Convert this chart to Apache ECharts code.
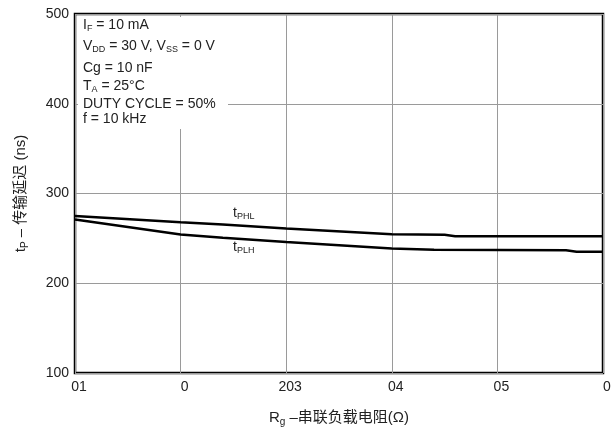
<!DOCTYPE html>
<html>
<head>
    <meta charset="utf-8">
    <title>tP vs Rg</title>
    <script src="https://cdn.jsdelivr.net/npm/echarts@6/dist/echarts.min.js"></script>
    <style>
        html, body { margin: 0; padding: 0; background: #fff; }
        #chart { width: 614px; height: 436px; }
    </style>
</head>
<body>
    <div id="chart"></div>
    <script>
        // 横轴刻度文字（原图即如此）
        var xLabels = ['01', '0', '203', '04', '05', '0'];
        var yTicks = [100, 200, 300, 400, 500];

        // tPHL 曲线
        var rgPHL = [0, 1, 1.4, 2, 3, 3.5, 3.6, 5];
        var tPHL = [275, 268, 265.5, 261, 254.7, 254, 252.4, 252.4];

        // tPLH 曲线
        var rgPLH = [0, 1, 1.4, 2, 3, 3.4, 4.65, 4.75, 5];
        var tPLH = [271, 254.3, 250.6, 246, 238.7, 237.4, 236.8, 235.2, 235];

        function pairs(xs, ys) {
            return xs.map(function (x, i) { return [x, ys[i]]; });
        }

        var font = '"Liberation Sans", Arial, sans-serif';
        var cjk = '"Liberation Sans", "Noto Sans CJK SC", sans-serif';
        var txtColor = '#222';
        var sub = { fontSize: 9, fontFamily: font, color: txtColor, verticalAlign: 'bottom', padding: [6, 0, 0, 0] };
        var norm = { fontSize: 14, fontFamily: font, color: txtColor, lineHeight: 17 };
        var nameRich = {
            n: { fontSize: 15, fontFamily: cjk, color: txtColor, lineHeight: 19 },
            s: { fontSize: 10, fontFamily: font, color: txtColor, verticalAlign: 'bottom', padding: [7, 0, 0, 0] }
        };

        function note(x, y, text) {
            return {
                type: 'text', left: x, top: y, z: 110,
                style: { text: text, rich: { n: norm, s: sub }, font: '14px ' + font, fill: txtColor }
            };
        }

        var chart = echarts.init(document.getElementById('chart'));

        var option = {
            animation: false,
            grid: {
                left: 75, top: 14, right: 11, bottom: 63,
                show: true, borderColor: '#000', borderWidth: 2.5, backgroundColor: 'transparent'
            },
            xAxis: {
                type: 'value', min: 0, max: 5, interval: 1,
                name: '{n|R}{s|g}{n| –串联负载电阻(Ω)}',
                nameLocation: 'middle', nameGap: 35,
                nameTextStyle: { rich: nameRich },
                axisLine: { show: false },
                axisTick: { show: false },
                splitLine: { show: true, lineStyle: { color: '#9a9a9a', width: 1 } },
                axisLabel: {
                    margin: 7, fontSize: 14, fontFamily: font, color: txtColor, padding: [0, 0, 0, 8],
                    formatter: function (v) { return xLabels[Math.round(v)]; }
                }
            },
            yAxis: {
                type: 'value', min: yTicks[0], max: yTicks[yTicks.length - 1], interval: 100,
                name: '{n|t}{s|P}{n| – 传输延迟 (ns)}',
                nameLocation: 'middle', nameGap: 45, nameRotate: 90,
                nameTextStyle: { rich: nameRich },
                axisLine: { show: false },
                axisTick: { show: false },
                splitLine: { show: true, lineStyle: { color: '#9a9a9a', width: 1 } },
                axisLabel: { margin: 6, fontSize: 14, fontFamily: font, color: txtColor }
            },
            series: [
                {
                    name: 'tPHL', type: 'line', data: pairs(rgPHL, tPHL),
                    showSymbol: false, lineStyle: { color: '#000', width: 2.5 }
                },
                {
                    name: 'tPLH', type: 'line', data: pairs(rgPLH, tPLH),
                    showSymbol: false, lineStyle: { color: '#000', width: 2.5 }
                }
            ],
            graphic: [
                // 条件说明框，白底遮住网格线
                { type: 'rect', z: 100, shape: { x: 78, y: 17, width: 150, height: 112 }, style: { fill: '#fff' } },
                note(83, 18, '{n|I}{s|F}{n| = 10 mA}'),
                note(83, 39, '{n|V}{s|DD}{n| = 30 V, V}{s|SS}{n| = 0 V}'),
                note(83, 61, '{n|Cg = 10 nF}'),
                note(83, 79, '{n|T}{s|A}{n| = 25°C}'),
                note(83, 97, '{n|DUTY CYCLE = 50%}'),
                note(83, 112, '{n|f = 10 kHz}'),
                note(233, 206, '{n|t}{s|PHL}'),
                note(233, 240, '{n|t}{s|PLH}')
            ]
        };

        chart.setOption(option);
    </script>
</body>
</html>
